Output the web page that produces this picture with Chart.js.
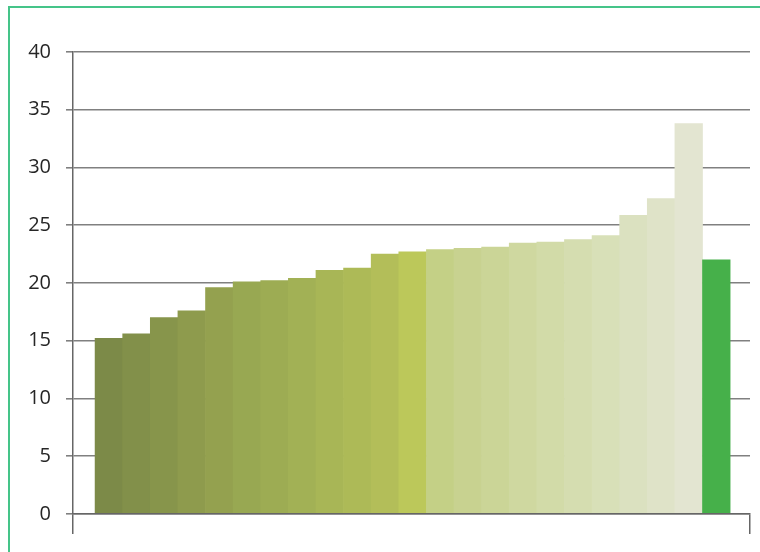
<!DOCTYPE html>
<html lang="en">
<head>
    <meta charset="UTF-8">
    <title>Bar chart</title>
    <script src="https://cdn.jsdelivr.net/npm/chart.js"></script>
    <style>
        body {
            margin: 0;
            background: #fff;
            overflow: hidden;
        }
        .wrap {
            position: relative;
            width: 760px;
            height: 552px;
        }
        .frame {
            position: absolute;
            left: 8px;
            top: 6px;
            width: 800px;
            height: 600px;
            border: 2px solid #45c489;
            pointer-events: none;
        }
    </style>
</head>
<body>
    <div class="wrap">
        <canvas id="chart"></canvas>
        <div class="frame"></div>
    </div>

    <script>
        // values, left to right
        const values = [15.2, 15.6, 17.0, 17.6, 19.6, 20.1, 20.2, 20.4, 21.1, 21.3, 22.5, 22.7,
                        22.9, 23.0, 23.1, 23.45, 23.55, 23.75, 24.1, 25.85, 27.3, 33.8, 22.0];
        const yTicks = [0, 5, 10, 15, 20, 25, 30, 35, 40];

        const barColors = ['#7c8a48', '#82904a', '#87954b', '#8e9b4d', '#94a14f', '#98a852',
                           '#9dac53', '#a2b155', '#a8b656', '#adba57', '#b3be59', '#bcc85a',
                           '#c4d086', '#c8d290', '#cbd597', '#cfd8a0', '#d2dba8', '#d5ddb0',
                           '#d8e0b8', '#dbe1c0', '#dfe3c8', '#e3e5d1', '#46b04a'];

        const ctx = document.getElementById('chart').getContext('2d');
        new Chart(ctx, {
            type: 'bar',
            data: {
                datasets: [{
                    data: values.map((v, i) => ({ x: i, y: v })),
                    backgroundColor: barColors,
                    borderWidth: 0,
                    barPercentage: 1,
                    categoryPercentage: 1
                }]
            },
            options: {
                responsive: true,
                maintainAspectRatio: false,
                animation: false,
                layout: { padding: { top: 52, right: 10, left: 0, bottom: 0 } },
                plugins: {
                    legend: { display: false },
                    tooltip: { enabled: false }
                },
                scales: {
                    x: {
                        type: 'linear',
                        min: -1.3,
                        max: 23.22,
                        offset: false,
                        afterBuildTicks: (scale) => {
                            scale.ticks = [{ value: scale.min }, { value: scale.max }];
                        },
                        afterFit: (scale) => { scale.height = 38; },
                        ticks: { display: false },
                        grid: {
                            offset: false,
                            drawOnChartArea: false,
                            tickLength: 20,
                            color: '#666',
                            lineWidth: 1.5
                        },
                        border: { display: true, color: '#666', width: 1.5, z: 1 }
                    },
                    y: {
                        min: 0,
                        max: 40,
                        afterBuildTicks: (scale) => {
                            scale.ticks = yTicks.map(v => ({ value: v }));
                        },
                        afterFit: (scale) => { scale.width = 73; },
                        ticks: {
                            padding: 15,
                            color: '#262626',
                            font: { family: 'Open Sans', size: 20 }
                        },
                        grid: {
                            color: '#808080',
                            lineWidth: 1.6,
                            tickLength: 7
                        },
                        border: { display: true, color: '#666', width: 1.5 }
                    }
                }
            }
        });
    </script>
</body>
</html>
